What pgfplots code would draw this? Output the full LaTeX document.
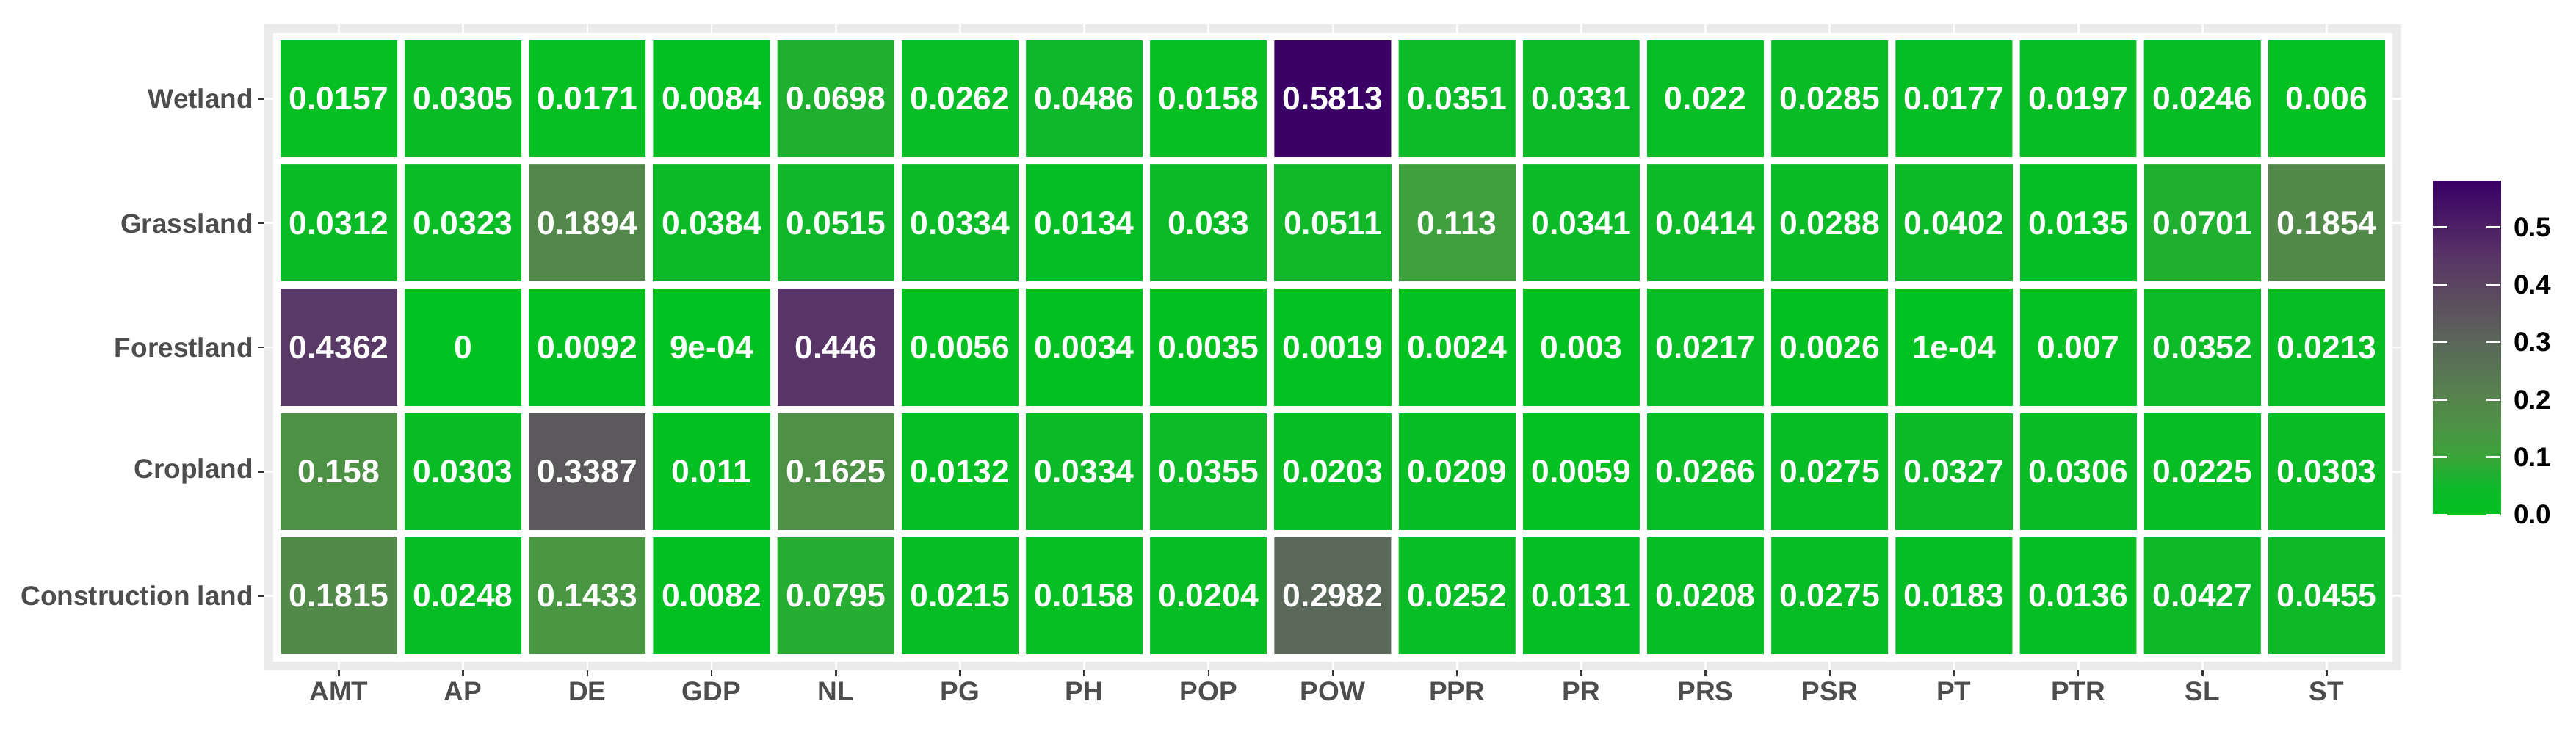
\documentclass[border=0pt]{standalone}
\usepackage{fontspec}
\setmainfont{Liberation Sans}
\usepackage{pgfplots}
\usepackage{pgfplotstable}
\pgfplotsset{compat=1.18}
\definecolor{panelgrey}{HTML}{EBEBEB}
\definecolor{labgrey}{HTML}{4D4D4D}
\definecolor{tickgrey}{HTML}{333333}
\newcommand{\tl}{\fontsize{7.4}{8}\selectfont\bfseries}
\newcommand{\cl}{\fontsize{8.9}{10}\selectfont\bfseries}
\pgfplotsset{
  colormap={gp}{rgb255(0pt)=(0,194,32); rgb255(5pt)=(15,184,42); rgb255(10pt)=(58,165,58); rgb255(15pt)=(75,148,68); rgb255(20pt)=(86,132,77); rgb255(30pt)=(90,103,90); rgb255(35pt)=(92,85,93); rgb255(45pt)=(88,52,102); rgb255(58.13pt)=(58,0,102)},
}
\pgfplotstableread{
x y v lab
0 0 0.1815 0.1815
1 0 0.0248 0.0248
2 0 0.1433 0.1433
3 0 0.0082 0.0082
4 0 0.0795 0.0795
5 0 0.0215 0.0215
6 0 0.0158 0.0158
7 0 0.0204 0.0204
8 0 0.2982 0.2982
9 0 0.0252 0.0252
10 0 0.0131 0.0131
11 0 0.0208 0.0208
12 0 0.0275 0.0275
13 0 0.0183 0.0183
14 0 0.0136 0.0136
15 0 0.0427 0.0427
16 0 0.0455 0.0455
0 1 0.158 0.158
1 1 0.0303 0.0303
2 1 0.3387 0.3387
3 1 0.011 0.011
4 1 0.1625 0.1625
5 1 0.0132 0.0132
6 1 0.0334 0.0334
7 1 0.0355 0.0355
8 1 0.0203 0.0203
9 1 0.0209 0.0209
10 1 0.0059 0.0059
11 1 0.0266 0.0266
12 1 0.0275 0.0275
13 1 0.0327 0.0327
14 1 0.0306 0.0306
15 1 0.0225 0.0225
16 1 0.0303 0.0303
0 2 0.4362 0.4362
1 2 0 0
2 2 0.0092 0.0092
3 2 0.0009 9e-04
4 2 0.446 0.446
5 2 0.0056 0.0056
6 2 0.0034 0.0034
7 2 0.0035 0.0035
8 2 0.0019 0.0019
9 2 0.0024 0.0024
10 2 0.003 0.003
11 2 0.0217 0.0217
12 2 0.0026 0.0026
13 2 0.0001 1e-04
14 2 0.007 0.007
15 2 0.0352 0.0352
16 2 0.0213 0.0213
0 3 0.0312 0.0312
1 3 0.0323 0.0323
2 3 0.1894 0.1894
3 3 0.0384 0.0384
4 3 0.0515 0.0515
5 3 0.0334 0.0334
6 3 0.0134 0.0134
7 3 0.033 0.033
8 3 0.0511 0.0511
9 3 0.113 0.113
10 3 0.0341 0.0341
11 3 0.0414 0.0414
12 3 0.0288 0.0288
13 3 0.0402 0.0402
14 3 0.0135 0.0135
15 3 0.0701 0.0701
16 3 0.1854 0.1854
0 4 0.0157 0.0157
1 4 0.0305 0.0305
2 4 0.0171 0.0171
3 4 0.0084 0.0084
4 4 0.0698 0.0698
5 4 0.0262 0.0262
6 4 0.0486 0.0486
7 4 0.0158 0.0158
8 4 0.5813 0.5813
9 4 0.0351 0.0351
10 4 0.0331 0.0331
11 4 0.022 0.022
12 4 0.0285 0.0285
13 4 0.0177 0.0177
14 4 0.0197 0.0197
15 4 0.0246 0.0246
16 4 0.006 0.006
}\datatable
\begin{document}
\begin{tikzpicture}
\path[use as bounding box] (0,0) rectangle (701.6pt,199.2pt);
\begin{axis}[
  scale only axis, width=582pt, height=176pt,
  at={(72pt,16.6pt)}, anchor=south west,
  xmin=-0.6, xmax=16.6, ymin=-0.6, ymax=4.6,
  xtick={0,...,16},
  xticklabels={AMT,AP,DE,GDP,NL,PG,PH,POP,POW,PPR,PR,PRS,PSR,PT,PTR,SL,ST},
  ytick={0,...,4},
  yticklabels={Construction land,Cropland,Forestland,Grassland,Wetland},
  axis background/.style={fill=panelgrey},
  axis line style={draw=none},
  grid=major, major grid style={white, line width=0.55pt},
  tick align=outside, xtick pos=left, ytick pos=left,
  major tick length=1.6pt, tick style={tickgrey, line width=0.5pt},
  xticklabel style={font=\tl, text=labgrey, inner sep=0pt, yshift=-1.4pt},
  yticklabel style={font=\tl, text=labgrey, inner sep=0pt, xshift=-1.2pt},
  colormap name=gp,
  point meta min=0, point meta max=0.5813,
]
\addplot[matrix plot*, mesh/cols=17, point meta=explicit, shader=faceted, faceted color=white, line width=2pt]
  table[x=x, y=y, meta=v] {\datatable};
\addplot[only marks, mark=*, mark size=0pt, mark options={draw=none, fill=none},
  point meta=explicit symbolic, nodes near coords,
  nodes near coords style={font=\cl, text=white, anchor=center, inner sep=0pt}]
  table[x=x, y=y, meta=lab] {\datatable};
\end{axis}
% colour bar
\begin{axis}[
  scale only axis, width=18.4pt, height=91pt,
  at={(662.6pt,59pt)}, anchor=south west,
  xmin=0, xmax=1, ymin=0, ymax=0.5813,
  axis line style={draw=none},
  xtick=\empty,
  ytick={0,0.1,0.2,0.3,0.4,0.5},
  ytick pos=both, yticklabel pos=right,
  tick align=inside, major tick length=3.9pt,
  tick style={white, line width=0.5pt},
  axis on top,
  yticklabel style={font=\tl, text=black, inner sep=0pt, xshift=3.4pt,
    /pgf/number format/.cd, fixed, fixed zerofill, precision=1, assume math mode=true},
  colormap name=gp,
  point meta min=0, point meta max=0.5813,
]
\addplot[surf, shader=interp, mesh/cols=2, point meta=y] coordinates {
  (0,0) (1,0)

  (0,0.05) (1,0.05)

  (0,0.1) (1,0.1)

  (0,0.15) (1,0.15)

  (0,0.2) (1,0.2)

  (0,0.3) (1,0.3)

  (0,0.35) (1,0.35)

  (0,0.45) (1,0.45)

  (0,0.5813) (1,0.5813)
};
\end{axis}
\end{tikzpicture}
\end{document}
